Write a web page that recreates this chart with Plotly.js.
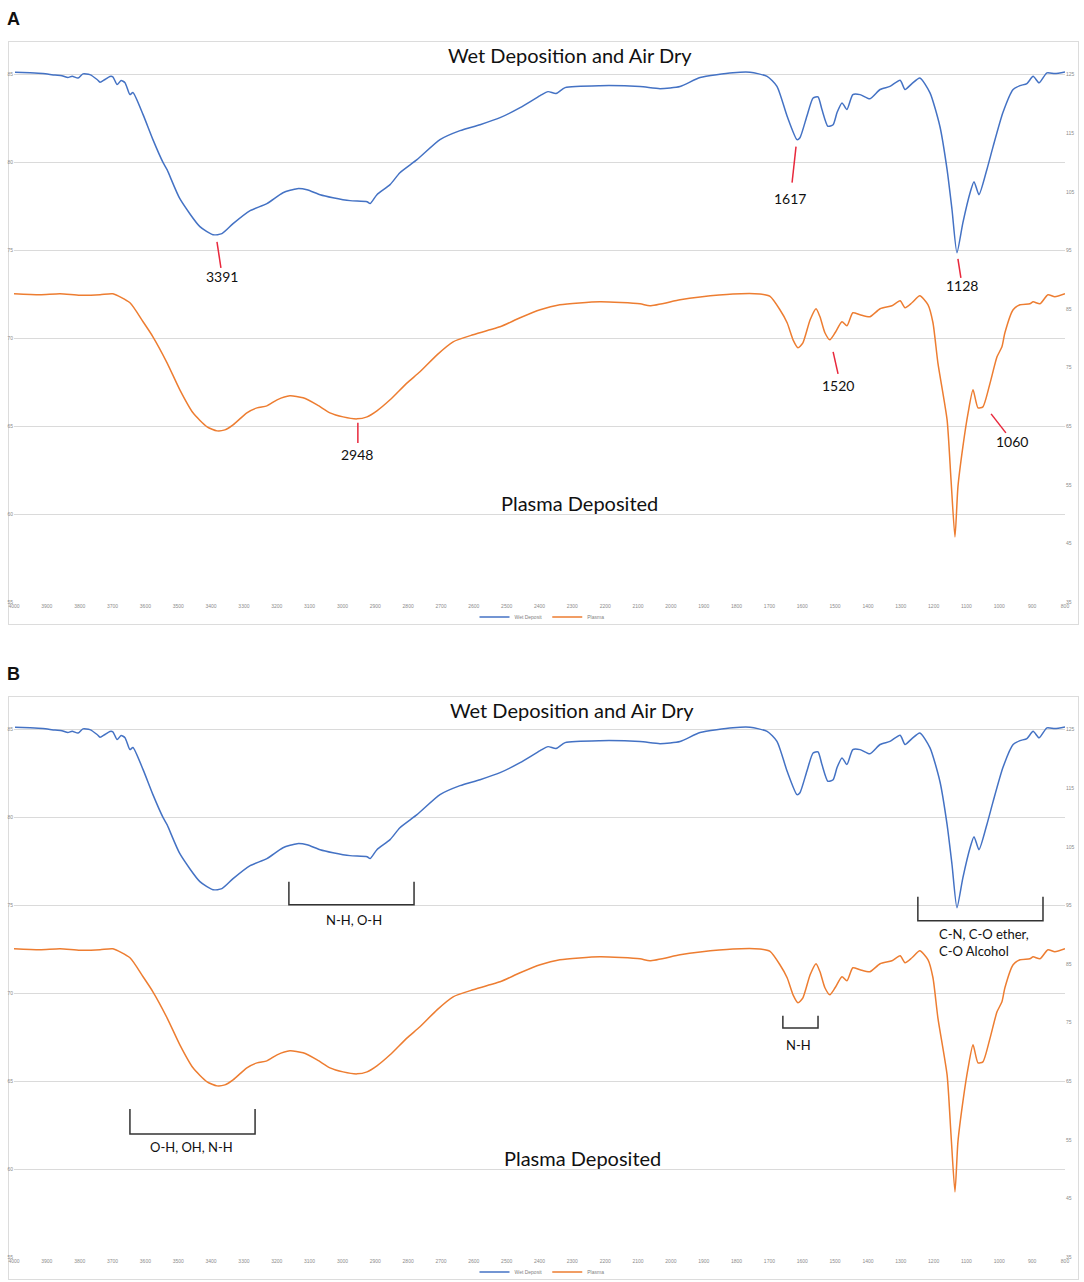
<!DOCTYPE html>
<html>
<head>
<meta charset="utf-8">
<script src="https://cdn.plot.ly/plotly-3.0.1.min.js"></script>
<style>
    body { margin: 0; background: #fff; width: 1084px; height: 1282px; position: relative; overflow: hidden; }
    .panel { position: absolute; left: 0; width: 1084px; height: 627px; }
    .frame { position: absolute; left: 8px; top: 41px; width: 1069px; height: 582px; border: 1px solid #dcdcdc; }
    .tag { position: absolute; left: 7px; top: 9px; font: bold 18px 'Liberation Sans', Arial, sans-serif; color: #111; }
    .plot { position: absolute; left: 0; top: 0; width: 1084px; height: 627px; }
</style>
</head>
<body>
<div class="panel" style="top:0px">
    <div class="tag">A</div>
    <div class="frame"></div>
    <div class="plot" id="plot-a"></div>
</div>
<div class="panel" style="top:655px">
    <div class="tag">B</div>
    <div class="frame"></div>
    <div class="plot" id="plot-b"></div>
</div>
<script>
// FTIR spectra (cm-1 vs %T).
const wet_wavenumber = [3997, 3951, 3912, 3875, 3854, 3836, 3823, 3805, 3790, 3769, 3747, 3738, 3723, 3708, 3699,
    3686, 3674, 3662, 3647, 3638, 3607, 3577, 3546, 3534, 3495, 3434, 3394, 3367, 3333, 3281, 3230, 3181, 3138,
    3108, 3068, 3029, 2977, 2925, 2916, 2895, 2855, 2825, 2773, 2703, 2642, 2581, 2520, 2459, 2398, 2374, 2350,
    2322, 2216, 2094, 2033, 1972, 1911, 1811, 1759, 1707, 1677, 1646, 1616, 1607, 1586, 1567, 1552, 1540, 1522,
    1506, 1494, 1479, 1464, 1446, 1424, 1394, 1363, 1333, 1302, 1287, 1266, 1242, 1211, 1181, 1159, 1144, 1129,
    1111, 1089, 1077, 1062, 1038, 1019, 989, 958, 937, 916, 897, 879, 855, 831, 800];
const wet_transmittance = [85.13, 85.10, 85.06, 84.97, 84.94, 84.83, 84.91, 84.80, 85.04, 85.00, 84.72, 84.56, 84.72,
    84.89, 84.87, 84.43, 84.66, 84.54, 83.86, 83.98, 82.72, 81.30, 79.99, 79.59, 77.94, 76.35, 75.89, 75.95, 76.52,
    77.26, 77.66, 78.28, 78.51, 78.45, 78.17, 78.00, 77.83, 77.77, 77.66, 78.17, 78.74, 79.42, 80.16, 81.30, 81.81,
    82.15, 82.55, 83.12, 83.80, 84.03, 83.92, 84.26, 84.37, 84.32, 84.20, 84.32, 84.83, 85.10, 85.13, 84.90, 84.33,
    82.63, 81.30, 81.41, 82.63, 83.67, 83.73, 83.01, 82.06, 82.15, 82.84, 83.39, 83.01, 83.86, 83.86, 83.62, 84.15,
    84.33, 84.68, 84.15, 84.49, 84.81, 83.96, 82.06, 79.59, 77.31, 74.87, 76.57, 78.28, 78.91, 78.17, 79.59, 80.90,
    82.84, 84.15, 84.37, 84.49, 84.90, 84.53, 85.10, 85.06, 85.15];

const plasma_wavenumber = [4000, 3921, 3860, 3799, 3738, 3699, 3647, 3607, 3577, 3534, 3495, 3455, 3412, 3382, 3358,
    3333, 3291, 3260, 3230, 3199, 3160, 3120, 3077, 3038, 2998, 2956, 2925, 2895, 2855, 2803, 2764, 2712, 2663,
    2602, 2551, 2520, 2459, 2398, 2338, 2216, 2094, 2064, 1972, 1911, 1811, 1729, 1698, 1668, 1646, 1628, 1613,
    1598, 1576, 1558, 1546, 1531, 1516, 1500, 1479, 1464, 1446, 1424, 1394, 1363, 1327, 1302, 1287, 1266, 1242,
    1217, 1202, 1187, 1159, 1147, 1135, 1126, 1111, 1095, 1080, 1065, 1050, 1028, 1007, 992, 983, 958, 937, 907,
    897, 876, 852, 831, 800];
const plasma_transmittance = [87.60, 87.43, 87.60, 87.35, 87.43, 87.60, 86.06, 82.82, 80.26, 75.82, 71.20, 67.28,
    64.89, 64.20, 64.37, 65.23, 67.28, 68.13, 68.47, 69.50, 70.18, 69.84, 68.64, 67.28, 66.59, 66.25, 66.59, 67.62,
    69.50, 72.40, 74.28, 77.18, 79.40, 80.60, 81.45, 81.96, 83.50, 84.87, 85.72, 86.23, 85.89, 85.55, 86.57, 87.04,
    87.55, 87.55, 87.14, 84.87, 82.65, 79.74, 78.38, 79.23, 83.16, 85.04, 83.67, 80.94, 79.74, 80.94, 82.82, 82.13,
    84.35, 84.01, 83.67, 85.04, 85.55, 86.40, 85.21, 86.06, 87.26, 85.72, 82.65, 75.82, 66.08, 55.83, 46.10, 54.64,
    61.47, 67.28, 71.20, 68.13, 68.30, 72.40, 76.84, 78.55, 80.94, 84.87, 85.72, 85.89, 86.23, 85.89, 87.43, 87.09,
    87.60];

const left_ticks = [55, 60, 65, 70, 75, 80, 85];
const right_ticks = [35, 45, 55, 65, 75, 85, 95, 105, 115, 125];
const series_names = ['Wet Deposit', 'Plasma'];
const series_colors = ['#4472c4', '#ed7d31'];
const upper_title = 'Wet Deposition and Air Dry';
const lower_title = 'Plasma Deposited';
const peak_labels = ['3391', '1617', '1128', '2948', '1520', '1060'];
const band_labels = ['N-H, O-H', 'O-H, OH, N-H', 'N-H', 'C-N, C-O ether,<br>C-O Alcohol'];

const font_main = 'Lato, "Open Sans", sans-serif';
const tick_font = { family: '"Liberation Sans", Arial, sans-serif', size: 5, color: '#8c8c8c' };

const build_traces = function () {
    return [
        {
            x: wet_wavenumber, y: wet_transmittance, name: series_names[0], type: 'scatter', mode: 'lines',
            line: { color: series_colors[0], width: 1.5, shape: 'spline', smoothing: 0.6 }, yaxis: 'y'
        },
        {
            x: plasma_wavenumber, y: plasma_transmittance, name: series_names[1], type: 'scatter', mode: 'lines',
            line: { color: series_colors[1], width: 1.5, shape: 'spline', smoothing: 0.6 }, yaxis: 'y2'
        }
    ];
}

const text_note = function (text, x, y, size, extra) {
    return Object.assign({
        text: text, x: x, y: y, xref: 'x', yref: 'y', showarrow: false,
        font: { family: font_main, size: size, color: '#111' }
    }, extra || {});
}

const red_tick = function (x0, y0, x1, y1) {
    return { type: 'line', xref: 'x', yref: 'y', x0: x0, y0: y0, x1: x1, y1: y1, line: { color: '#e8283c', width: 1.5 } };
}

// bracket open at the top: two short legs joined at the bottom
const bracket = function (x0, x1, y_top, y_bottom) {
    return {
        type: 'path', xref: 'x', yref: 'y',
        path: `M ${x0},${y_top} L ${x0},${y_bottom} L ${x1},${y_bottom} L ${x1},${y_top}`,
        line: { color: '#333333', width: 1.5 }
    };
}

// plot area runs one unit above the top gridline so the spectra are not clipped
const base_layout = function (title_x, plasma_x) {
    return {
        width: 1084, height: 627,
        margin: { l: 14, r: 19, t: 57, b: 25, pad: 0 },
        paper_bgcolor: 'rgba(0,0,0,0)', plot_bgcolor: 'rgba(0,0,0,0)',
        showlegend: true,
        legend: {
            orientation: 'h', x: 0.5, xanchor: 'center', xref: 'container', y: 0.016, yanchor: 'middle', yref: 'container',
            font: { family: tick_font.family, size: 5, color: '#7f7f7f' }, itemwidth: 30, tracegroupgap: 0
        },
        xaxis: {
            range: [4000, 800], tick0: 0, dtick: 100, showgrid: false, zeroline: false, showline: false,
            ticks: '', tickfont: tick_font, automargin: false
        },
        yaxis: {
            range: [55, 86], tickvals: left_ticks, gridcolor: '#dadada', gridwidth: 1, zeroline: false,
            showline: false, ticks: '', tickfont: tick_font, automargin: false
        },
        yaxis2: {
            range: [35, 128], tickvals: right_ticks, overlaying: 'y', side: 'right', showgrid: false,
            zeroline: false, showline: false, ticks: '', tickfont: tick_font, automargin: false
        },
        annotations: [
            { text: upper_title, xref: 'paper', yref: 'paper', x: title_x, y: 1.004, xanchor: 'center', yanchor: 'middle',
              showarrow: false, font: { family: font_main, size: 20, color: '#111' } },
            { text: lower_title, xref: 'paper', yref: 'paper', x: plasma_x, y: 0.182, xanchor: 'center', yanchor: 'middle',
              showarrow: false, font: { family: font_main, size: 20, color: '#111' } }
        ],
        shapes: []
    };
}

const plot_panel_a = function () {
    let layout = base_layout(0.529, 0.5385);
    layout.shapes = [
        red_tick(3382, 75.49, 3370, 74.01),
        red_tick(1619, 80.90, 1631, 78.85),
        red_tick(1126, 74.52, 1117, 73.44),
        red_tick(2953, 65.19, 2953, 64.05),
        red_tick(1506, 69.23, 1491, 67.98),
        red_tick(1025, 65.70, 980, 64.62)
    ];
    layout.annotations.push(
        text_note(peak_labels[0], 3367, 73.50, 14),
        text_note(peak_labels[1], 1637, 77.94, 14),
        text_note(peak_labels[2], 1114, 72.99, 14),
        text_note(peak_labels[3], 2956, 63.37, 14),
        text_note(peak_labels[4], 1491, 67.29, 14),
        text_note(peak_labels[5], 961, 64.11, 14)
    );
    Plotly.newPlot('plot-a', build_traces(), layout, { displayModeBar: false, staticPlot: true });
}

const plot_panel_b = function () {
    let layout = base_layout(0.531, 0.541);
    layout.shapes = [
        bracket(3163, 2782, 76.35, 75.04),
        bracket(3647, 3266, 63.42, 62.00),
        bracket(1659, 1552, 68.72, 68.03),
        bracket(1248, 867, 75.49, 74.13)
    ];
    layout.annotations.push(
        text_note(band_labels[0], 2965, 74.18, 13),
        text_note(band_labels[1], 3461, 61.26, 13),
        text_note(band_labels[2], 1610, 67.07, 13),
        text_note(band_labels[3], 1190, 72.90, 13, { xanchor: 'left', align: 'left' })
    );
    Plotly.newPlot('plot-b', build_traces(), layout, { displayModeBar: false, staticPlot: true });
}

plot_panel_a();
plot_panel_b();
</script>
</body>
</html>
